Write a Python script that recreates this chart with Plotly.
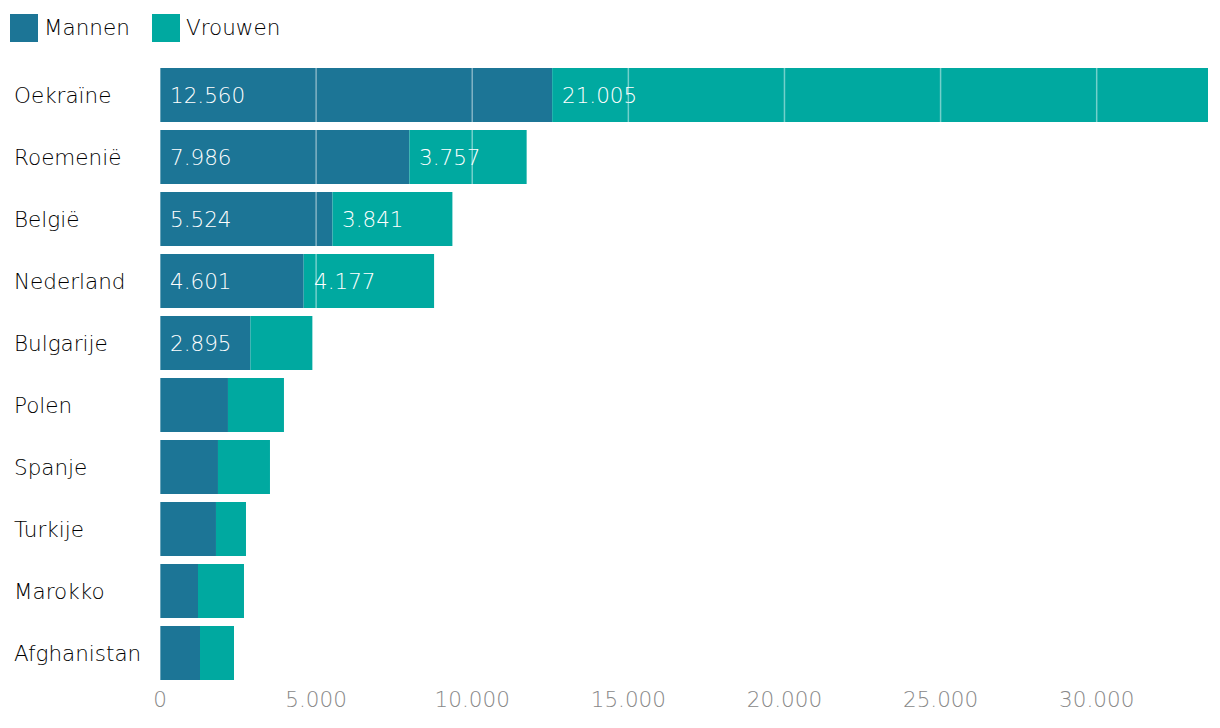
import plotly.graph_objects as go

countries = ["Oekraïne", "Roemenië", "België", "Nederland", "Bulgarije",
             "Polen", "Spanje", "Turkije", "Marokko", "Afghanistan"]
mannen = [12560, 7986, 5524, 4601, 2895, 2177, 1857, 1793, 1217, 1281]
vrouwen = [21005, 3757, 3841, 4177, 1985, 1793, 1665, 961, 1473, 1089]
show_m = [True, True, True, True, True, False, False, False, False, False]
show_v = [True, True, True, True, False, False, False, False, False, False]
tick_vals = [0, 5000, 10000, 15000, 20000, 25000, 30000]

C_M = "#1c7596"
C_V = "#00a9a0"
FONT = "DejaVu Sans"
FW = 200
FS = 21.5
W, H = 1204, 712
L, R, T, B = 152, 4, 56, 36
PW, PH = W - L - R, H - T - B

def fmt(v):
    return f"{v:,}".replace(",", ".")

def px(xf):
    return (xf - L) / PW

def py(yf):
    return (H - B - yf) / PH

fig = go.Figure()
fig.add_trace(go.Bar(y=countries, x=mannen, orientation="h", name="Mannen",
                     marker=dict(color=C_M, line=dict(width=0)), showlegend=False))
fig.add_trace(go.Bar(y=countries, x=vrouwen, orientation="h", name="Vrouwen",
                     base=mannen,
                     marker=dict(color=C_V, line=dict(width=0)), showlegend=False))

total_max = max(m + v for m, v in zip(mannen, vrouwen))

lab_font = dict(family=FONT, size=FS, color="#000", weight=FW)
in_font = dict(family=FONT, size=FS, color="white", weight=FW)

annotations = []
for c in countries:
    annotations.append(dict(x=px(4), xref="paper", y=c, yref="y", text=c,
                            showarrow=False, xanchor="left", font=lab_font))
for c, m, v, sm, sv in zip(countries, mannen, vrouwen, show_m, show_v):
    if sm:
        annotations.append(dict(x=0, y=c, xref="x", yref="y", text=fmt(m),
                                showarrow=False, xanchor="left", xshift=8,
                                font=in_font))
    if sv:
        annotations.append(dict(x=m, y=c, xref="x", yref="y", text=fmt(v),
                                showarrow=False, xanchor="left", xshift=8,
                                font=in_font))

# legend (manual)
shapes = []
leg = [("Mannen", C_M, 2), ("Vrouwen", C_V, 144)]
for name, col, lx in leg:
    shapes.append(dict(type="rect", xref="paper", yref="paper",
                       x0=px(lx), x1=px(lx + 28), y0=py(34), y1=py(6),
                       fillcolor=col, line=dict(width=0)))
    annotations.append(dict(x=px(lx + 32), xref="paper", y=py(20), yref="paper",
                            text=name, showarrow=False, xanchor="left",
                            yanchor="middle", font=lab_font))

# gridlines drawn above bars
for tv in tick_vals:
    shapes.append(dict(type="line", xref="x", yref="paper", x0=tv, x1=tv,
                       y0=0, y1=1, layer="above",
                       line=dict(color="rgba(255,255,255,0.45)", width=1.5)))

fig.update_layout(
    width=W, height=H,
    margin=dict(l=L, r=R, t=T, b=B),
    barmode="overlay", bargap=0.13,
    plot_bgcolor="white", paper_bgcolor="white",
    separators=",.",
    annotations=annotations, shapes=shapes,
    showlegend=False,
    xaxis=dict(range=[0, total_max], tickvals=tick_vals, tickformat=",d",
               showgrid=False, zeroline=False, showline=False, ticks="",
               tickfont=dict(family=FONT, size=FS, color="#888", weight=FW),
               fixedrange=True),
    yaxis=dict(autorange="reversed", showticklabels=False, showgrid=False,
               zeroline=False, showline=False, ticks=""),
)

fig.write_html("out.html")
